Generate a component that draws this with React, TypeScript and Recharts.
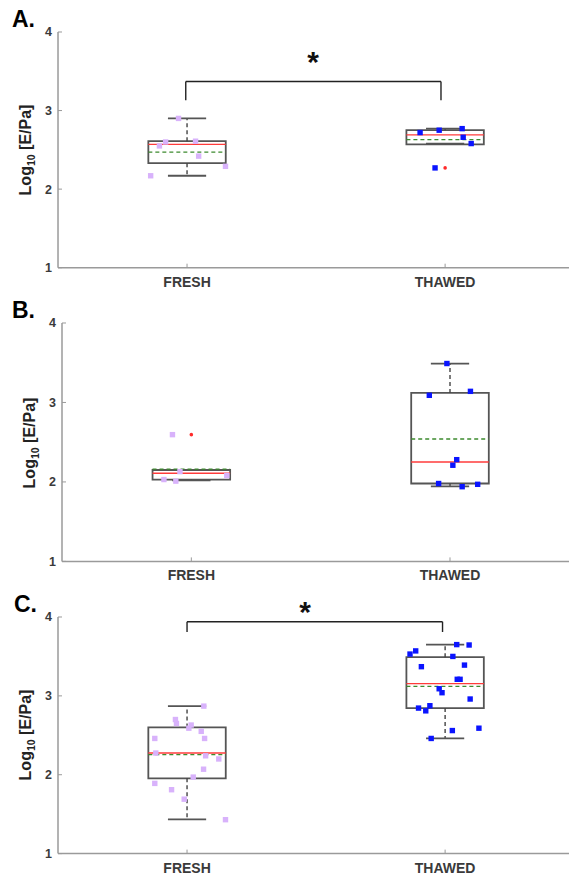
import React from "react"
import { ComposedChart, XAxis, YAxis, Scatter, ReferenceArea, ReferenceLine, ReferenceDot } from "recharts"

const groups = ["FRESH", "THAWED"]
const yTicks = [1, 2, 3, 4]

// A.
const freshA = [2.9, 2.55, 2.6, 2.61, 2.42, 2.29, 2.17]
const freshAJitter = [-0.033, -0.107, -0.083, 0.033, 0.045, 0.149, -0.141]
const thawedA = [2.72, 2.75, 2.77, 2.66, 2.58, 2.27]
const thawedAJitter = [-0.097, -0.023, 0.066, 0.07, 0.101, -0.039]
const statsA = [
  { lo: 2.17, q1: 2.33, med: 2.57, q3: 2.61, hi: 2.9, mean: 2.47 },
  { lo: 2.58, q1: 2.57, med: 2.69, q3: 2.75, hi: 2.77, mean: 2.63 },
]
const outliersA = [{ group: 2, y: 2.27 }]
const sigA = { from: 0.995, to: 1.984, top: 3.37, foot: 3.13, starX: 1.488, starY: 3.706 }

// B.
const freshB = [2.595, 2.13, 2.03, 2.01, 2.08]
const freshBJitter = [-0.073, -0.044, -0.106, -0.06, 0.137]
const thawedB = [3.49, 3.09, 3.14, 2.28, 2.21, 1.98, 1.94, 1.97]
const thawedBJitter = [-0.012, -0.08, 0.079, 0.026, 0.011, -0.044, 0.047, 0.107]
const statsB = [
  { lo: 2.02, q1: 2.03, med: 2.11, q3: 2.15, hi: 2.15, mean: 2.16 },
  { lo: 1.945, q1: 1.98, med: 2.25, q3: 3.12, hi: 3.49, mean: 2.54 },
]
const outliersB = [{ group: 1, y: 2.595 }]

// C.
const freshC = [2.87, 2.7, 2.65, 2.63, 2.59, 2.55, 2.46, 2.46, 2.275, 2.24, 2.2, 2.07, 1.97, 1.89, 1.81, 1.69, 1.43]
const freshCJitter = [0.065, -0.045, -0.041, 0.016, 0.007, 0.055, -0.125, 0.068, -0.121, 0.072, 0.123, 0.064, 0.024, -0.125, -0.06, -0.011, 0.149]
const thawedC = [3.65, 3.645, 3.53, 3.57, 3.5, 3.37, 3.39, 3.21, 3.21, 3.09, 3.04, 2.96, 2.845, 2.81, 2.875, 2.56, 2.59, 2.46]
const thawedCJitter = [0.045, 0.093, -0.136, -0.114, 0.03, -0.092, 0.075, 0.047, 0.058, -0.023, -0.012, 0.097, -0.103, -0.075, -0.059, 0.028, 0.131, -0.054]
const statsC = [
  { lo: 1.435, q1: 1.954, med: 2.275, q3: 2.6, hi: 2.87, mean: 2.255 },
  { lo: 2.46, q1: 2.845, med: 3.155, q3: 3.49, hi: 3.65, mean: 3.12 },
]
const sigC = { from: 1.0, to: 1.99, top: 3.94, foot: 3.81, starX: 1.457, starY: 4.147 }

type Stats = { lo: number; q1: number; med: number; q3: number; hi: number; mean: number }

const font = "Arial, 'Liberation Sans', sans-serif"
const axisGray = "#9a9a9a"

function XTick({ x, y, payload }: any) {
  return (
    <g>
      <line x1={x} x2={x} y1={y} y2={y - 4} stroke={axisGray} />
      <text x={x} y={y + 19} textAnchor="middle" fontFamily={font} fontWeight="bold" fontSize={14} fill="#3a3a3a">
        {groups[payload.value - 1]}
      </text>
    </g>
  )
}

function YTick({ x, y, payload }: any) {
  return (
    <g>
      <line x1={x} x2={x + 4} y1={y} y2={y} stroke={axisGray} />
      <text x={x - 6} y={y + 4.5} textAnchor="end" fontFamily={font} fontWeight="bold" fontSize={12.5} fill="#3a3a3a">
        {payload.value}
      </text>
    </g>
  )
}

const square = (color: string) => (p: any) => (
  <rect x={p.cx - 2.7} y={p.cy - 2.7} width={5.4} height={5.4} fill={color} />
)

function boxElements(s: Stats, pos: number, key: string) {
  const seg = (x1: number, y1: number, x2: number, y2: number) => [{ x: x1, y: y1 }, { x: x2, y: y2 }]
  return [
    <ReferenceLine key={key + "wu"} segment={seg(pos, s.q3, pos, s.hi)} stroke="#444" strokeDasharray="4 3" strokeWidth={1.4} ifOverflow="visible" />,
    <ReferenceLine key={key + "wl"} segment={seg(pos, s.q1, pos, s.lo)} stroke="#444" strokeDasharray="4 3" strokeWidth={1.4} ifOverflow="visible" />,
    <ReferenceLine key={key + "ch"} segment={seg(pos - 0.074, s.hi, pos + 0.074, s.hi)} stroke="#555" strokeWidth={1.8} ifOverflow="visible" />,
    <ReferenceLine key={key + "cl"} segment={seg(pos - 0.074, s.lo, pos + 0.074, s.lo)} stroke="#555" strokeWidth={1.8} ifOverflow="visible" />,
    <ReferenceArea key={key + "box"} x1={pos - 0.15} x2={pos + 0.15} y1={s.q1} y2={s.q3} fill="none" stroke="#555" strokeWidth={1.8} ifOverflow="visible" />,
    <ReferenceLine key={key + "med"} segment={seg(pos - 0.15, s.med, pos + 0.15, s.med)} stroke="#ff3b3b" strokeWidth={1.4} ifOverflow="visible" />,
    <ReferenceLine key={key + "mean"} segment={seg(pos - 0.15, s.mean, pos + 0.15, s.mean)} stroke="#3d8a2e" strokeDasharray="4 3" strokeWidth={1.3} ifOverflow="visible" />,
  ]
}

interface PanelProps {
  letter: string
  top: number
  height: number
  axisX: number
  xMax: number
  fresh: number[]
  freshJitter: number[]
  thawed: number[]
  thawedJitter: number[]
  stats: Stats[]
  outliers: { group: number; y: number }[]
  sig?: { from: number; to: number; top: number; foot: number; starX: number; starY: number }
}

function Panel({ letter, top, height, axisX, xMax, fresh, freshJitter, thawed, thawedJitter, stats, outliers, sig }: PanelProps) {
  const freshPts = fresh.map((y, i) => ({ x: 1 + freshJitter[i], y }))
  const thawedPts = thawed.map((y, i) => ({ x: 2 + thawedJitter[i], y }))
  const plotTop = top + 32
  const plotH = height - 32 - 28
  return (
    <>
      <div style={{ position: "absolute", left: 0, top }}>
        <ComposedChart width={569} height={height} margin={{ top: 32, right: 0, left: 0, bottom: 0 }}>
          <XAxis type="number" dataKey="x" domain={[0.5, xMax]} ticks={[1, 2]} allowDataOverflow height={28}
            tickSize={0} tickMargin={0} tickLine={false} tick={(p: any) => <XTick {...p} />}
            axisLine={{ stroke: axisGray, strokeWidth: 1.5 }} />
          <YAxis type="number" dataKey="y" domain={[1, 4]} ticks={yTicks} width={axisX} allowDataOverflow
            tickSize={0} tickMargin={0} tickLine={false} tick={(p: any) => <YTick {...p} />}
            axisLine={{ stroke: axisGray, strokeWidth: 1.5 }} />
          {boxElements(stats[0], 1, "f")}
          {boxElements(stats[1], 2, "t")}
          {outliers.map((o, i) => (
            <ReferenceDot key={"o" + i} x={o.group} y={o.y} r={1.8} fill="#ff2a2a" stroke="none" ifOverflow="visible" />
          ))}
          <Scatter data={freshPts} shape={square("#d8b2fb")} isAnimationActive={false} />
          <Scatter data={thawedPts} shape={square("#0a14ff")} isAnimationActive={false} />
          {sig && [
            <ReferenceLine key="b1" segment={[{ x: sig.from, y: sig.foot }, { x: sig.from, y: sig.top }]} stroke="#222" strokeWidth={1.4} ifOverflow="visible" />,
            <ReferenceLine key="b2" segment={[{ x: sig.from, y: sig.top }, { x: sig.to, y: sig.top }]} stroke="#222" strokeWidth={1.4} ifOverflow="visible" />,
            <ReferenceLine key="b3" segment={[{ x: sig.to, y: sig.top }, { x: sig.to, y: sig.foot }]} stroke="#222" strokeWidth={1.4} ifOverflow="visible" />,
            <ReferenceDot key="star" x={sig.starX} y={sig.starY} r={0} ifOverflow="visible"
              shape={(p: any) => (
                <text x={p.cx} y={p.cy + 17} textAnchor="middle" fontFamily={font} fontWeight="bold" fontSize={30} fill="#111">*</text>
              )} />,
          ]}
        </ComposedChart>
      </div>
      <div style={{ position: "absolute", left: 0, top: top + 8, fontFamily: font, fontWeight: "bold", fontSize: 23, lineHeight: "23px", color: "#000", paddingLeft: letter === "C." ? 14 : 12 }}>
        {letter}
      </div>
      <div style={{
        position: "absolute", left: axisX - 31, top: plotTop + plotH / 2, transform: "translate(-50%, -50%) rotate(-90deg)",
        whiteSpace: "nowrap", fontFamily: font, fontWeight: "bold", fontSize: 16, color: "#222",
      }}>
        Log<sub style={{ fontSize: 10.5 }}>10</sub> [E/Pa]
      </div>
    </>
  )
}

export default function App() {
  return (
    <div style={{ position: "absolute", left: 0, top: 0, width: 569, height: 875, background: "#fff", overflow: "hidden" }}>
      <Panel letter="A." top={0.3} height={295.7} axisX={58} xMax={2.48}
        fresh={freshA} freshJitter={freshAJitter} thawed={thawedA} thawedJitter={thawedAJitter}
        stats={statsA} outliers={outliersA} sig={sigA} />
      <Panel letter="B." top={291.3} height={298.4} axisX={62} xMax={2.46}
        fresh={freshB} freshJitter={freshBJitter} thawed={thawedB} thawedJitter={thawedBJitter}
        stats={statsB} outliers={outliersB} />
      <Panel letter="C." top={584.7} height={296.6} axisX={58} xMax={2.48}
        fresh={freshC} freshJitter={freshCJitter} thawed={thawedC} thawedJitter={thawedCJitter}
        stats={statsC} outliers={[]} sig={sigC} />
    </div>
  )
}
